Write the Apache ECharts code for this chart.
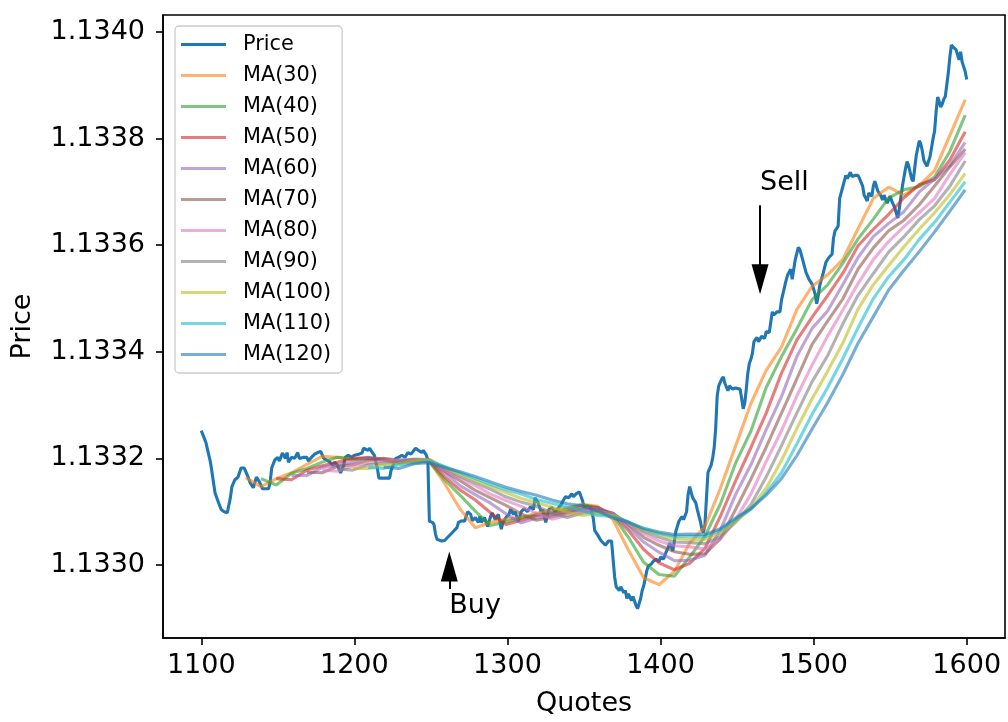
<!DOCTYPE html>
<html>
<head>
<meta charset="utf-8">
<script src="https://cdn.jsdelivr.net/npm/echarts@6/dist/echarts.min.js"></script>
<style>html,body{margin:0;padding:0;background:#fff}#c{width:1008px;height:722px}</style>
</head>
<body>
<div id="c"></div>
<script>
// ---------------- data ----------------
const pricePoints = [
[1100,1.133252],[1101,1.133252],[1103,1.133230],[1106,1.133193],[1107,1.133174],[1109,1.133135],[1111,1.133119],[1113,1.133104],[1115,1.133100],[1117,1.133098],
[1119,1.133126],[1120,1.133147],[1122,1.133160],[1124,1.133165],[1126,1.133182],[1128,1.133182],[1130,1.133169],[1132,1.133154],[1134,1.133145],[1136,1.133165],
[1138,1.133156],[1140,1.133143],[1144,1.133143],[1145,1.133156],[1146,1.133182],[1148,1.133197],[1150,1.133202],[1151,1.133195],[1153,1.133210],[1155,1.133200],
[1156,1.133211],[1157,1.133193],[1159,1.133202],[1161,1.133200],[1163,1.133211],[1164,1.133200],[1167,1.133202],[1169,1.133202],[1170,1.133195],[1172,1.133202],
[1174,1.133208],[1176,1.133211],[1178,1.133213],[1180,1.133200],[1182,1.133197],[1184,1.133193],[1186,1.133187],[1187,1.133193],[1189,1.133187],[1191,1.133173],
[1193,1.133187],[1194,1.133202],[1196,1.133206],[1198,1.133202],[1200,1.133206],[1203,1.133208],[1205,1.133210],[1206,1.133219],[1209,1.133215],[1210,1.133219],
[1212,1.133210],[1213,1.133206],[1215,1.133182],[1216,1.133163],[1218,1.133163],[1221,1.133163],[1223,1.133163],[1224,1.133178],[1227,1.133200],[1229,1.133202],
[1231,1.133206],[1233,1.133202],[1235,1.133211],[1237,1.133208],[1240,1.133219],[1242,1.133215],[1244,1.133211],[1245,1.133215],[1247,1.133206],[1248,1.133197],
[1249,1.133082],[1251,1.133080],[1252,1.133076],[1253,1.133058],[1254,1.133048],[1255,1.133045],[1257,1.133045],[1259,1.133046],[1261,1.133052],[1264,1.133061],
[1265,1.133063],[1267,1.133070],[1268,1.133080],[1270,1.133083],[1272,1.133082],[1274,1.133100],[1276,1.133095],[1277,1.133083],[1279,1.133089],[1281,1.133080],
[1282,1.133091],[1283,1.133080],[1285,1.133089],[1287,1.133072],[1289,1.133091],[1290,1.133098],[1292,1.133085],[1294,1.133095],[1296,1.133067],[1297,1.133080],
[1299,1.133089],[1301,1.133095],[1302,1.133104],[1304,1.133095],[1305,1.133100],[1307,1.133082],[1309,1.133100],[1311,1.133106],[1313,1.133100],[1315,1.133109],
[1317,1.133104],[1318,1.133126],[1320,1.133117],[1322,1.133100],[1323,1.133104],[1325,1.133080],[1327,1.133104],[1329,1.133108],[1331,1.133100],[1333,1.133106],
[1335,1.133113],[1337,1.133124],[1338,1.133128],[1340,1.133126],[1342,1.133134],[1343,1.133128],[1345,1.133134],[1347,1.133137],[1349,1.133121],[1350,1.133109],
[1352,1.133111],[1354,1.133109],[1355,1.133109],[1356,1.133089],[1357,1.133065],[1359,1.133056],[1361,1.133046],[1362,1.133045],[1364,1.133037],[1366,1.133045],
[1368,1.133045],[1369,1.133011],[1370,1.132978],[1371,1.132959],[1373,1.132952],[1374,1.132959],[1376,1.132948],[1377,1.132952],[1378,1.132937],[1379,1.132946],
[1381,1.132933],[1382,1.132941],[1384,1.132924],[1385,1.132918],[1387,1.132937],[1388,1.132952],[1389,1.132961],[1391,1.132989],[1392,1.132998],[1394,1.133002],
[1395,1.133006],[1397,1.133011],[1399,1.133006],[1400,1.133015],[1402,1.133011],[1403,1.133020],[1405,1.133033],[1406,1.133041],[1407,1.133035],[1408,1.133026],
[1409,1.133026],[1410,1.133063],[1412,1.133082],[1414,1.133091],[1415,1.133085],[1417,1.133100],[1418,1.133132],[1419,1.133147],[1421,1.133126],[1423,1.133117],
[1424,1.133104],[1426,1.133082],[1427,1.133067],[1428,1.133061],[1429,1.133076],[1430,1.133126],[1431,1.133174],[1433,1.133187],[1434,1.133200],[1435,1.133219],
[1436,1.133256],[1437,1.133317],[1438,1.133336],[1440,1.133349],[1441,1.133353],[1442,1.133341],[1444,1.133327],[1445,1.133336],[1447,1.133330],[1449,1.133332],
[1450,1.133332],[1452,1.133330],[1453,1.133312],[1454,1.133293],[1455,1.133304],[1456,1.133330],[1457,1.133360],[1458,1.133378],[1459,1.133386],[1460,1.133397],
[1461,1.133419],[1463,1.133427],[1464,1.133419],[1466,1.133429],[1468,1.133425],[1469,1.133438],[1471,1.133436],[1473,1.133475],[1474,1.133469],[1476,1.133475],
[1478,1.133475],[1479,1.133497],[1480,1.133499],[1482,1.133534],[1483,1.133544],[1485,1.133555],[1486,1.133536],[1487,1.133555],[1488,1.133573],[1490,1.133596],
[1491,1.133592],[1493,1.133571],[1495,1.133549],[1497,1.133536],[1499,1.133527],[1501,1.133508],[1502,1.133490],[1503,1.133506],[1504,1.133525],[1506,1.133545],
[1508,1.133568],[1510,1.133577],[1512,1.133583],[1513,1.133614],[1514,1.133627],[1516,1.133636],[1517,1.133688],[1520,1.133720],[1521,1.133731],[1522,1.133725],
[1524,1.133737],[1525,1.133729],[1527,1.133731],[1529,1.133731],[1530,1.133725],[1532,1.133711],[1533,1.133694],[1535,1.133683],[1536,1.133698],[1538,1.133692],
[1539,1.133711],[1540,1.133720],[1542,1.133701],[1544,1.133692],[1545,1.133685],[1546,1.133694],[1548,1.133679],[1550,1.133692],[1551,1.133683],[1553,1.133670],
[1554,1.133660],[1555,1.133651],[1556,1.133670],[1558,1.133711],[1560,1.133744],[1561,1.133757],[1562,1.133750],[1564,1.133725],[1565,1.133720],[1566,1.133744],
[1567,1.133768],[1569,1.133796],[1570,1.133790],[1571,1.133777],[1572,1.133759],[1574,1.133748],[1575,1.133757],[1576,1.133766],[1578,1.133800],[1579,1.133814],
[1580,1.133850],[1581,1.133878],[1582,1.133870],[1583,1.133859],[1584,1.133865],[1585,1.133874],[1586,1.133879],[1588,1.133924],[1589,1.133954],[1590,1.133976],
[1591,1.133972],[1593,1.133967],[1594,1.133970],[1595,1.133948],[1596,1.133963],[1597,1.133944],[1598,1.133942],[1599,1.133926],[1600,1.133911]
];

// quotes at which the moving averages were read (each MA uses the tail of this grid)
const maQuoteGrid = [1129,1139,1149,1159,1169,1179,1189,1199,1209,1219,1229,1239,1249,1259,1269,1279,1289,1299,1309,1319,1329,1339,1349,1359,1369,1379,1389,1399,1409,1419,1429,1439,1449,1459,1469,1479,1489,1499,1509,1519,1529,1539,1549,1559,1569,1579,1589,1599];

const ma30 = [1.133164,1.133147,1.133162,1.133173,1.133189,1.133204,1.133202,1.133198,1.133199,1.133197,1.133193,1.133193,1.133195,1.133153,1.133105,1.133070,1.133080,1.133086,1.133089,1.133097,1.133103,1.133108,1.133114,1.133110,1.133085,1.133028,1.132976,1.132963,1.132988,1.133041,1.133072,1.133143,1.133223,1.133303,1.133365,1.133409,1.133479,1.133523,1.133544,1.133573,1.133631,1.133688,1.133709,1.133694,1.133712,1.133740,1.133806,1.133873];
const ma40 = [1.133162,1.133150,1.133172,1.133181,1.133193,1.133202,1.133199,1.133201,1.133196,1.133193,1.133197,1.133193,1.133160,1.133131,1.133101,1.133074,1.133081,1.133088,1.133094,1.133098,1.133105,1.133113,1.133108,1.133092,1.133052,1.133005,1.132982,1.132979,1.133015,1.133054,1.133114,1.133191,1.133251,1.133333,1.133391,1.133443,1.133498,1.133525,1.133566,1.133612,1.133649,1.133689,1.133704,1.133710,1.133728,1.133776,1.133844];
const ma50 = [1.133162,1.133160,1.133178,1.133186,1.133193,1.133200,1.133201,1.133198,1.133193,1.133196,1.133196,1.133165,1.133141,1.133122,1.133098,1.133076,1.133084,1.133093,1.133096,1.133101,1.133109,1.133108,1.133094,1.133065,1.133029,1.133004,1.132991,1.133003,1.133031,1.133091,1.133158,1.133220,1.133285,1.133360,1.133422,1.133465,1.133505,1.133547,1.133599,1.133630,1.133658,1.133689,1.133714,1.133723,1.133760,1.133813];
const ma60 = [1.133168,1.133168,1.133183,1.133187,1.133193,1.133202,1.133199,1.133195,1.133196,1.133196,1.133173,1.133149,1.133132,1.133116,1.133096,1.133079,1.133088,1.133094,1.133099,1.133105,1.133106,1.133097,1.133071,1.133043,1.133024,1.133008,1.133009,1.133018,1.133065,1.133132,1.133188,1.133254,1.133316,1.133391,1.133444,1.133476,1.133526,1.133577,1.133616,1.133641,1.133663,1.133700,1.133724,1.133750,1.133793];
const ma70 = [1.133174,1.133173,1.133185,1.133188,1.133196,1.133200,1.133197,1.133197,1.133196,1.133176,1.133158,1.133140,1.133126,1.133112,1.133096,1.133084,1.133090,1.133097,1.133103,1.133103,1.133097,1.133076,1.133052,1.133037,1.133025,1.133020,1.133021,1.133049,1.133104,1.133161,1.133221,1.133285,1.133349,1.133414,1.133457,1.133499,1.133555,1.133595,1.133627,1.133647,1.133676,1.133711,1.133747,1.133780];
const ma80 = [1.133178,1.133176,1.133186,1.133191,1.133195,1.133197,1.133198,1.133197,1.133178,1.133162,1.133149,1.133133,1.133121,1.133110,1.133097,1.133086,1.133093,1.133101,1.133101,1.133095,1.133079,1.133059,1.133045,1.133036,1.133034,1.133030,1.133048,1.133085,1.133133,1.133194,1.133252,1.133317,1.133375,1.133429,1.133478,1.133528,1.133573,1.133607,1.133635,1.133661,1.133688,1.133733,1.133774];
const ma90 = [1.133180,1.133178,1.133188,1.133191,1.133193,1.133199,1.133198,1.133181,1.133166,1.133154,1.133142,1.133128,1.133118,1.133110,1.133098,1.133089,1.133097,1.133100,1.133094,1.133080,1.133063,1.133052,1.133043,1.133042,1.133040,1.133053,1.133080,1.133113,1.133165,1.133224,1.133285,1.133344,1.133392,1.133452,1.133506,1.133547,1.133587,1.133616,1.133648,1.133674,1.133711,1.133758];
const ma100 = [1.133181,1.133181,1.133188,1.133190,1.133195,1.133198,1.133183,1.133170,1.133158,1.133147,1.133136,1.133125,1.133117,1.133109,1.133099,1.133093,1.133096,1.133093,1.133080,1.133065,1.133057,1.133050,1.133048,1.133048,1.133060,1.133081,1.133106,1.133144,1.133196,1.133256,1.133312,1.133363,1.133416,1.133480,1.133526,1.133562,1.133597,1.133630,1.133661,1.133695,1.133735];
const ma110 = [1.133183,1.133181,1.133188,1.133191,1.133195,1.133185,1.133173,1.133162,1.133151,1.133141,1.133133,1.133123,1.133116,1.133109,1.133102,1.133093,1.133091,1.133081,1.133067,1.133059,1.133054,1.133054,1.133053,1.133065,1.133085,1.133104,1.133135,1.133173,1.133227,1.133283,1.133332,1.133387,1.133445,1.133500,1.133541,1.133573,1.133611,1.133643,1.133681,1.133719];
const ma120 = [1.133184,1.133181,1.133190,1.133192,1.133183,1.133175,1.133166,1.133156,1.133146,1.133138,1.133131,1.133122,1.133115,1.133111,1.133101,1.133088,1.133080,1.133069,1.133062,1.133057,1.133058,1.133057,1.133068,1.133088,1.133106,1.133131,1.133162,1.133205,1.133255,1.133304,1.133357,1.133416,1.133466,1.133516,1.133553,1.133588,1.133625,1.133664,1.133704];

const maWindows = [30,40,50,60,70,80,90,100,110,120];
const maValues = [ma30,ma40,ma50,ma60,ma70,ma80,ma90,ma100,ma110,ma120];

const xTicks = [1100,1200,1300,1400,1500,1600];
const yTicks = [1.1330,1.1332,1.1334,1.1336,1.1338,1.1340];

// annotations (data coordinates)
const sellArrow = [[1465,1.133675],[1465,1.133536]];
const buyArrow  = [[1262,1.132955],[1262,1.132997]];
const annotationTexts = [
  {text:'Sell', at:[1465,1.133716]},
  {text:'Buy',  at:[1262,1.132924]}
];

// ---------------- chart ----------------
const FONT = 'DejaVu Sans';
const priceColor = '#1f77b4';
const maColors = ['#ff7f0e','#2ca02c','#d62728','#9467bd','#8c564b','#e377c2','#7f7f7f','#bcbd22','#17becf','#1f77b4'];
const MA_ALPHA = 0.6;

const chart = echarts.init(document.getElementById('c'), null, {renderer:'canvas'});

const series = [{
  name:'Price', type:'line', data: pricePoints, showSymbol:false, silent:true,
  lineStyle:{color:priceColor, width:3.1}, itemStyle:{color:priceColor},
  markLine:{
    silent:true, animation:false,
    symbol:['none','triangle'], symbolSize:[17,30],
    lineStyle:{color:'#000', width:2, type:'solid'},
    itemStyle:{color:'#000'},
    label:{show:false},
    emphasis:{disabled:true},
    data:[
      [{coord:sellArrow[0]},{coord:sellArrow[1]}],
      [{coord:buyArrow[0]},{coord:buyArrow[1]}]
    ]
  }
}];
maValues.forEach((vals,i)=>{
  const qs = maQuoteGrid.slice(maQuoteGrid.length - vals.length);
  series.push({
    name:'MA('+maWindows[i]+')', type:'line', showSymbol:false, silent:true,
    data: qs.map((q,j)=>[q, vals[j]]),
    lineStyle:{color:maColors[i], width:3.1, opacity:MA_ALPHA},
    itemStyle:{color:maColors[i], opacity:MA_ALPHA}
  });
});

const legendData = [{name:'Price', itemStyle:{color:priceColor, opacity:1}}].concat(
  maWindows.map((w,i)=>({name:'MA('+w+')', itemStyle:{color:maColors[i], opacity:MA_ALPHA}}))
);

const option = {
  animation:false,
  backgroundColor:'#ffffff',
  grid:{left:163, right:3, top:15, bottom:77, show:true, borderColor:'#000', borderWidth:1.6, backgroundColor:'transparent'},
  xAxis:{
    type:'value', min:1075, max:1625,
    axisLine:{show:true, onZero:false, lineStyle:{color:'#000', width:1.6}},
    axisTick:{show:true, inside:false, length:7, lineStyle:{color:'#000', width:1.6}, customValues:xTicks},
    axisLabel:{customValues:xTicks, color:'#000', fontSize:27, fontFamily:FONT, margin:14,
      formatter:(v)=>String(Math.round(v))},
    splitLine:{show:false},
    name:'Quotes', nameLocation:'middle', nameGap:52,
    nameTextStyle:{fontSize:27, fontFamily:FONT, color:'#000'}
  },
  yAxis:{
    type:'value', min:1.132863, max:1.134032,
    axisLine:{show:true, onZero:false, lineStyle:{color:'#000', width:1.6}},
    axisTick:{show:true, inside:false, length:7, lineStyle:{color:'#000', width:1.6}, customValues:yTicks},
    axisLabel:{customValues:yTicks, color:'#000', fontSize:27, fontFamily:FONT, margin:18,
      formatter:(v)=>Number(v).toFixed(4)},
    splitLine:{show:false},
    name:'Price', nameLocation:'middle', nameGap:127, nameRotate:90,
    nameTextStyle:{fontSize:27, fontFamily:FONT, color:'#000'}
  },
  legend:{
    show:true, orient:'vertical', left:175, top:26,
    selectedMode:false,
    icon:'rect', itemWidth:45, itemHeight:3, itemGap:10,
    padding:[8,11,8,6],
    backgroundColor:'rgba(255,255,255,0.8)', borderColor:'#cccccc', borderWidth:1.3, borderRadius:4,
    textStyle:{fontSize:20.8, fontFamily:FONT, color:'#000', lineHeight:21, padding:[0,0,0,12]},
    data:legendData
  },
  series:series
};
chart.setOption(option);

// annotation texts placed through the axes' own scales
const graphics = annotationTexts.map(a=>{
  const p = chart.convertToPixel({gridIndex:0}, a.at);
  return {type:'text', x:p[0], y:p[1], z:100, silent:true,
    style:{text:a.text, fill:'#000', fontSize:27, fontFamily:FONT, align:'left', verticalAlign:'middle'}};
});
chart.setOption({graphic:graphics});
</script>
</body>
</html>
